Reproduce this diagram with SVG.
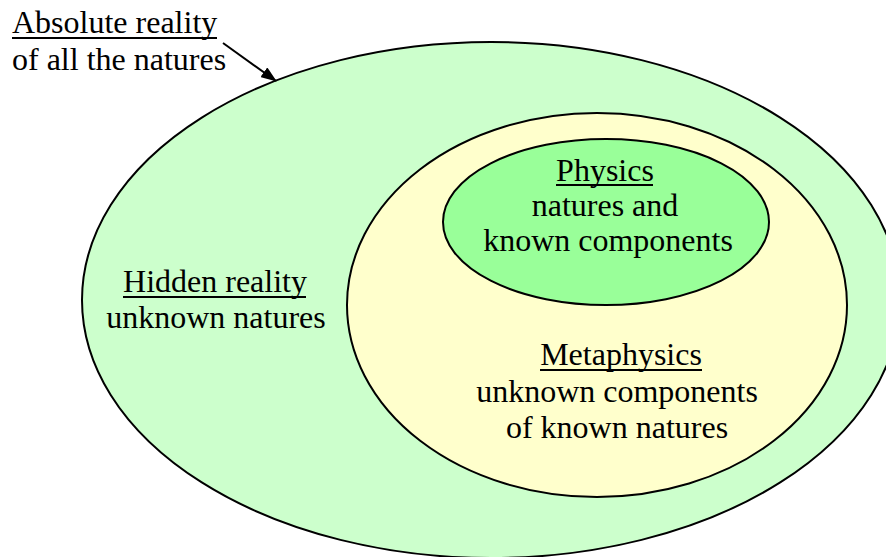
<svg xmlns="http://www.w3.org/2000/svg" width="886" height="557" viewBox="0 0 886 557">
<style>
text{font-family:"Liberation Serif","Times New Roman",serif;font-size:32px;fill:#000;text-anchor:middle}
.l{text-anchor:start}
.u{stroke:#000;stroke-width:2}
ellipse{stroke:#000;stroke-width:2}
</style>
<defs>
<marker id="ah" markerWidth="16" markerHeight="12" refX="15" refY="6" orient="auto" markerUnits="userSpaceOnUse">
<path d="M0,0 L16,6 L0,12 Z" fill="#000"/>
</marker>
</defs>
<rect width="886" height="557" fill="#fff"/>
<g id="absolute">
<ellipse cx="491" cy="300" rx="409" ry="258" fill="#ccffcc"/>
</g>
<g id="metaphysics">
<ellipse cx="597" cy="305" rx="250" ry="192" fill="#ffffcc"/>
<text x="621" y="365">Metaphysics</text>
<line class="u" x1="540" y1="370" x2="702" y2="370"/>
<text x="617" y="402">unknown components</text>
<text x="617" y="438">of known natures</text>
</g>
<g id="physics">
<ellipse cx="606" cy="222" rx="163" ry="83" fill="#99ff99"/>
<text x="605" y="181">Physics</text>
<line class="u" x1="556" y1="185" x2="653" y2="185"/>
<text x="605" y="216">natures and</text>
<text x="608" y="251">known components</text>
</g>
<g id="hidden">
<text x="215" y="292">Hidden reality</text>
<line class="u" x1="123" y1="297" x2="306" y2="297"/>
<text x="216" y="328">unknown natures</text>
</g>
<g id="label">
<text x="12" y="33" class="l">Absolute reality</text>
<line class="u" x1="12" y1="38" x2="217" y2="38"/>
<text x="12" y="70" class="l">of all the natures</text>
</g>
<g id="connectors">
<line x1="223" y1="43" x2="276" y2="81" stroke="#000" stroke-width="2" marker-end="url(#ah)"/>
</g>
</svg>
